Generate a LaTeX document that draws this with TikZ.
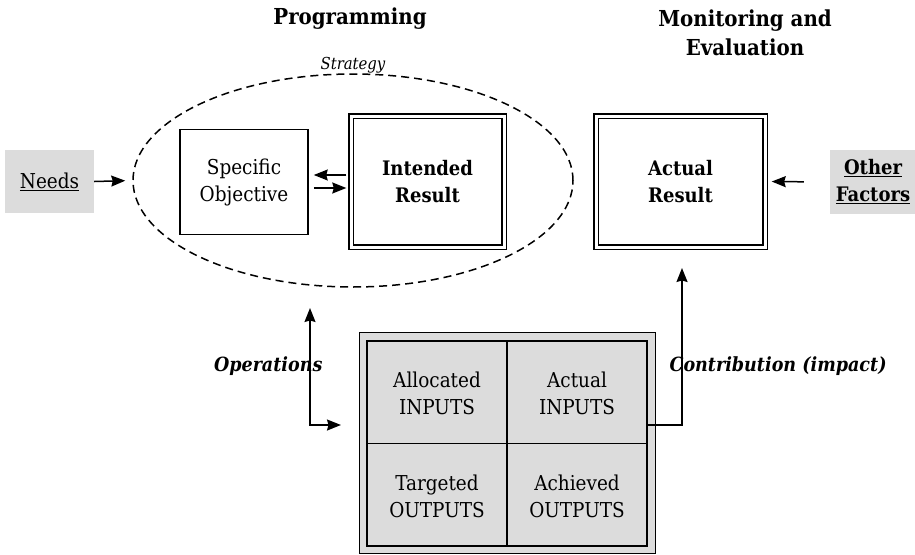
\documentclass[tikz,border=0pt]{standalone}
\usepackage{fontspec}
\setmainfont{DejaVu Serif Condensed}
\usetikzlibrary{arrows.meta,shapes.geometric,calc}
\definecolor{boxgray}{HTML}{DCDCDC}
\begin{document}
\begin{tikzpicture}[x=1pt,y=-1pt,
  txt/.style={font=\fontsize{20.5}{27}\selectfont, align=center},
  btxt/.style={font=\fontsize{20}{27}\selectfont\bfseries, align=center},
  ttl/.style={font=\fontsize{22}{29}\selectfont\bfseries, align=center},
  lbl/.style={font=\fontsize{19.5}{22}\selectfont\bfseries\itshape},
  plain/.style={draw, line width=1.5pt, inner sep=0pt},
  dbl/.style={draw, line width=1.4pt, double=white, double distance=3pt, inner sep=0pt},
  graybox/.style={fill=boxgray, inner sep=0pt},
  tip/.tip={Stealth[length=14pt,width=11pt,inset=1.5pt]},
  arr/.style={-tip, line width=1.5pt},
  conn/.style={line width=1.5pt}
]
\useasboundingbox (0,0) rectangle (915,554);

% titles
\node[ttl] (tprog) at (350,19) {Programming};
\node[ttl] (tmon) at (745,33) {Monitoring and\\Evaluation};

% strategy ellipse
\node[draw, dash pattern=on 8pt off 5pt, line width=1.5pt, ellipse, minimum width=440pt, minimum height=213pt, inner sep=0pt] (strat) at (353,180.5) {};
\node[font=\fontsize{16.5}{18}\selectfont\itshape] (tstrat) at (353,65) {Strategy};

% boxes
\node[graybox, minimum width=89pt, minimum height=63pt, txt] (needs) at (49.5,181.5) {\underline{Needs}};
\node[graybox, minimum width=86pt, minimum height=64pt, btxt] (other) at (873,182) {\underline{Other}\\\underline{Factors}};
\node[plain, minimum width=128pt, minimum height=105pt, txt] (specific) at (244,182) {Specific\\Objective};
\node[dbl, minimum width=153pt, minimum height=131pt, btxt] (intended) at (427.5,181.5) {Intended\\Result};
\node[dbl, minimum width=169pt, minimum height=131pt, btxt] (actual) at (680.5,181.5) {Actual\\Result};

% bottom grid
\node[draw, line width=0.8pt, fill=boxgray, minimum width=296pt, minimum height=221pt, inner sep=0pt] (gridout) at (507,443) {};
\node[draw, line width=1.5pt, minimum width=280pt, minimum height=205pt, inner sep=0pt] (grid) at (507,443.5) {};
\draw[conn] (grid.north) -- (grid.south);
\draw[conn] (grid.west) -- (grid.east);
\node[txt] (c1) at (437,393) {Allocated\\INPUTS};
\node[txt] (c2) at (577,393) {Actual\\INPUTS};
\node[txt] (c3) at (437,496) {Targeted\\OUTPUTS};
\node[txt] (c4) at (577,496) {Achieved\\OUTPUTS};

% arrows
\draw[arr, shorten >=7pt] (needs.east) -- (strat.west);
\draw[arr, shorten <=4pt, shorten >=5pt] (intended.west |- 0,175) -- (specific.east |- 0,175);
\draw[arr, shorten <=5pt, shorten >=4pt] (specific.east |- 0,188) -- (intended.west |- 0,188);
\draw[arr, shorten <=26pt, shorten >=6pt] (other.west) -- (actual.east);

\coordinate (opTop) at (310,308);
\coordinate (opBend) at (310,425);
\coordinate (opEnd) at (341,425);
\draw[conn, tip-tip] (opTop) -- (opBend) -- (opEnd);
\node[lbl, anchor=east] (tops) at (326,366) {Operations};

\coordinate (cbBend) at (682,425);
\coordinate (cbTop) at (682,268);
\draw[arr] (grid.east |- opBend) -- (cbBend) -- (cbTop);
\node[lbl, anchor=west] (tcontrib) at (666,366) {Contribution (impact)};
\end{tikzpicture}
\end{document}
